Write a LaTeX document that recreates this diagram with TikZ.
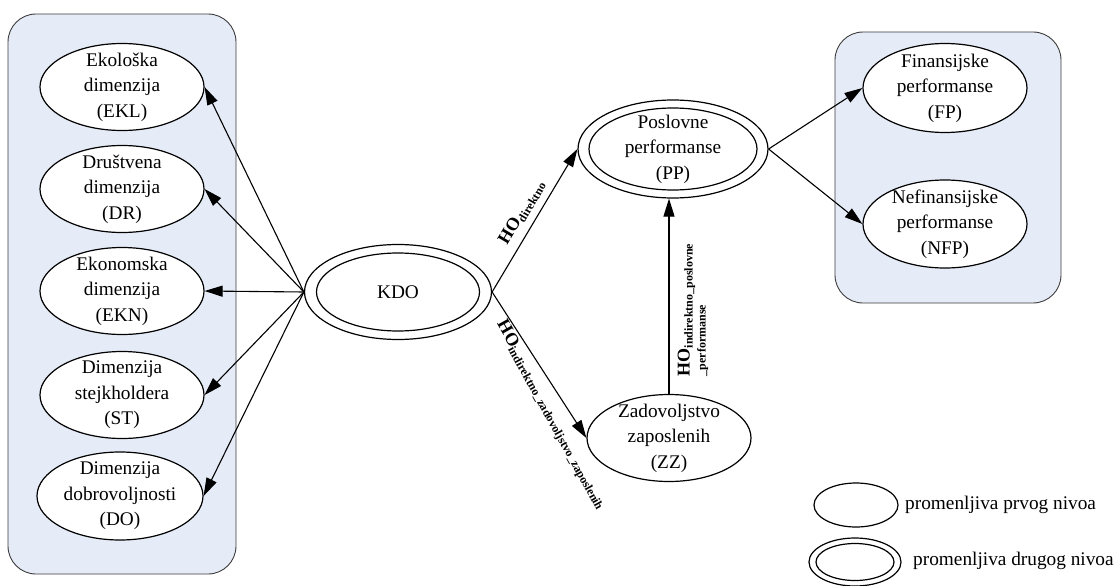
\documentclass[tikz,border=0pt]{standalone}
\usepackage{fontspec}
\setmainfont{Liberation Serif}
\usetikzlibrary{shapes.geometric,arrows.meta}
\definecolor{panelblue}{RGB}{230,236,247}
\definecolor{panelborder}{RGB}{60,60,60}
\newcommand\hyplab[1]{{\fontsize{18}{18}\selectfont\bfseries HO}\raisebox{-3pt}{\fontsize{12}{12}\selectfont\bfseries #1}}
\begin{document}
\begin{tikzpicture}[x=1pt,y=-1pt,
  panel/.style={draw=panelborder, fill=panelblue, line width=0.9pt, rounded corners=28pt},
  var/.style={ellipse, draw, fill=white, line width=1.2pt, inner sep=0pt, minimum width=164pt, minimum height=87pt},
  innerell/.style={ellipse, draw, line width=1.2pt, inner sep=0pt},
  txt/.style={align=center, inner sep=0pt, font=\fontsize{19.3}{25.5}\selectfont},
  arr/.style={line width=1.1pt, -{Triangle[length=18pt,width=11pt]}},
  lab/.style={inner sep=0pt, font=\fontsize{12}{16}\selectfont}
]
\useasboundingbox (0,0) rectangle (1120,586);
% panels
\path[panel] (8,14) rectangle (236,574);
\path[panel] (835,32) rectangle (1061,303);

% left dimension nodes
\node[var] (EKL) at (122,87) {};
\node[txt] (tEKL) at (EKL) {Ekološka\\dimenzija\\(EKL)};
\node[var] (DR) at (122,189) {};
\node[txt] (tDR) at (DR) {Društvena\\dimenzija\\(DR)};
\node[var] (EKN) at (122,291) {};
\node[txt] (tEKN) at (EKN) {Ekonomska\\dimenzija\\(EKN)};
\node[var] (ST) at (122,395) {};
\node[txt] (tST) at (ST) {Dimenzija\\stejkholdera\\(ST)};
\node[var, minimum width=166pt, minimum height=88pt] (DO) at (120,496) {};
\node[txt] (tDO) at (DO) {Dimenzija\\dobrovoljnosti\\(DO)};

% KDO
\node[var, minimum width=187pt, minimum height=95pt] (KDO) at (398,292) {};
\node[innerell, minimum width=163pt, minimum height=78pt] (KDOi) at (KDO) {};
\node[txt] (tKDO) at (KDO) {KDO};

% PP
\node[var, minimum width=190pt, minimum height=98pt] (PP) at (673,149) {};
\node[innerell, minimum width=168pt, minimum height=82pt] (PPi) at (PP) {};
\node[txt] (tPP) at (PP) {Poslovne\\performanse\\(PP)};

% ZZ
\node[var] (ZZ) at (669,438) {};
\node[txt] (tZZ) at (ZZ) {Zadovoljstvo\\zaposlenih\\(ZZ)};

% FP, NFP
\node[var, minimum height=89pt] (FP) at (945,88) {};
\node[txt] (tFP) at (FP) {Finansijske\\performanse\\(FP)};
\node[var, minimum height=88pt] (NFP) at (945,224) {};
\node[txt] (tNFP) at (NFP) {Nefinansijske\\performanse\\(NFP)};

% connectors
\foreach \t in {EKL,DR,EKN,ST,DO}
  \draw[arr] (KDO.west) -- (\t.east);
\draw[arr] (KDO.east) -- node[lab, sloped, above=7pt, pos=0.5] (l1) {\hyplab{direktno}} (PP.west);
\draw[arr] (KDO.east) -- (ZZ.west);
\draw[arr] (ZZ.north) -- (ZZ.north |- PP.south);
\draw[arr] (PP.east) -- (FP.west);
\draw[arr] (PP.east) -- (NFP.west);

% other labels
\node[lab, rotate=-61] (l2) at (551,415) {\hyplab{indirektno\_zadovoljstvo\_zaposlenih}};
\node[lab, rotate=90, align=left] (l3) at (693,310) {\hyplab{indirektno\_poslovne}\\{\bfseries\_performanse}};

% legend
\node[var, minimum width=84pt, minimum height=44pt] (lg1) at (856,505) {};
\node[txt, anchor=west] (lg1t) at (905,505) {promenljiva prvog nivoa};
\node[var, minimum width=92pt, minimum height=48pt] (lg2) at (855,562) {};
\node[innerell, minimum width=78pt, minimum height=37pt] (lg2i) at (lg2) {};
\node[txt, anchor=west] (lg2t) at (913,561) {promenljiva drugog nivoa};
\end{tikzpicture}
\end{document}
